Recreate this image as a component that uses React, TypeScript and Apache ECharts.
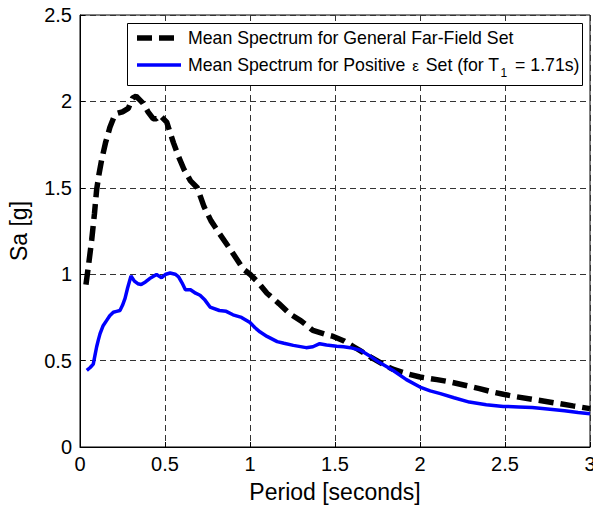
import React, { useEffect, useRef } from "react";
import * as echarts from "echarts";

const generalT = [0.035, 0.05, 0.069, 0.085, 0.098, 0.112, 0.127, 0.15, 0.176, 0.2, 0.216, 0.25, 0.284, 0.31, 0.33, 0.35, 0.37, 0.4, 0.43, 0.45, 0.47, 0.51, 0.55, 0.58, 0.61, 0.65, 0.69, 0.73, 0.77, 0.82, 0.88, 0.96, 1.0, 1.05, 1.1, 1.17, 1.235, 1.3, 1.37, 1.45, 1.49, 1.55, 1.61, 1.66, 1.71, 1.78, 1.84, 1.92, 2.0, 2.1, 2.18, 2.27, 2.35, 2.42, 2.49, 2.57, 2.66, 2.75, 2.82, 2.9, 3.0];
const generalSa = [0.94, 1.05, 1.2, 1.35, 1.49, 1.58, 1.66, 1.76, 1.85, 1.91, 1.93, 1.94, 1.96, 2.02, 2.03, 2.01, 1.99, 1.94, 1.9, 1.9, 1.92, 1.88, 1.76, 1.68, 1.61, 1.54, 1.5, 1.39, 1.31, 1.235, 1.15, 1.03, 1.0, 0.95, 0.89, 0.83, 0.77, 0.73, 0.675, 0.65, 0.64, 0.615, 0.58, 0.55, 0.52, 0.48, 0.45, 0.425, 0.405, 0.39, 0.376, 0.356, 0.338, 0.32, 0.305, 0.29, 0.276, 0.262, 0.251, 0.238, 0.222];

const positiveT = [0.04, 0.06, 0.078, 0.088, 0.098, 0.108, 0.118, 0.135, 0.157, 0.175, 0.196, 0.215, 0.235, 0.25, 0.265, 0.28, 0.3, 0.32, 0.34, 0.36, 0.385, 0.41, 0.45, 0.48, 0.505, 0.53, 0.56, 0.58, 0.6, 0.62, 0.65, 0.68, 0.706, 0.735, 0.765, 0.82, 0.86, 0.9, 0.95, 1.0, 1.03, 1.06, 1.1, 1.16, 1.2, 1.255, 1.33, 1.37, 1.41, 1.45, 1.51, 1.55, 1.59, 1.65, 1.7, 1.76, 1.84, 1.92, 2.0, 2.06, 2.12, 2.2, 2.29, 2.39, 2.49, 2.58, 2.66, 2.75, 2.85, 2.93, 3.0];
const positiveSa = [0.444, 0.46, 0.48, 0.53, 0.58, 0.62, 0.656, 0.7, 0.733, 0.76, 0.78, 0.785, 0.79, 0.82, 0.86, 0.92, 0.99, 0.96, 0.945, 0.94, 0.955, 0.975, 0.998, 0.98, 1.0, 1.007, 1.0, 0.985, 0.95, 0.91, 0.91, 0.89, 0.878, 0.85, 0.81, 0.79, 0.785, 0.765, 0.75, 0.72, 0.69, 0.665, 0.64, 0.61, 0.6, 0.588, 0.575, 0.58, 0.598, 0.59, 0.583, 0.58, 0.575, 0.56, 0.53, 0.49, 0.444, 0.39, 0.347, 0.325, 0.309, 0.285, 0.26, 0.245, 0.235, 0.232, 0.228, 0.22, 0.21, 0.2, 0.193];

const seriesNames = ["Mean Spectrum for General Far-Field Set", "Mean Spectrum for Positive ε Set (for T1 = 1.71s)"];
const legendRich = ["Mean Spectrum for General Far-Field Set", "Mean Spectrum for Positive {eps|ε} Set (for T{sub|1} = 1.71s)"];
const xLabel = "Period [seconds]";
const yLabel = "Sa [g]";

const FONT = "Liberation Sans, Arial, sans-serif";

export default function App() {
  const ref = useRef<HTMLDivElement>(null);
  useEffect(() => {
    document.documentElement.style.overflow = "hidden";
    document.body.style.margin = "0";
    document.body.style.overflow = "hidden";
    if (!ref.current) return;
    const chart = echarts.init(ref.current, null, { renderer: "svg" });
    const gridLine = { show: true, lineStyle: { color: "#333", width: 1, type: [6, 4] as any } };
    const blackLine = { color: "#000", width: 5.5, type: [15, 7] as any, cap: "butt" };
    const blueLine = { color: "#0000ff", width: 3.5 };
    const legendText = (y: number, text: string) => ({
      type: "text",
      z: 6,
      x: 188,
      y,
      style: {
        text,
        fontFamily: FONT,
        fontSize: 17.7,
        fill: "#000",
        verticalAlign: "middle",
        rich: {
          eps: { fontFamily: FONT, fontSize: 15, fill: "#000", padding: [0, 2, 0, 2] },
          sub: { fontFamily: FONT, fontSize: 12, fill: "#000", padding: [15, 3, 0, 1] },
        },
      },
    });
    chart.setOption({
      animation: false,
      backgroundColor: "#fff",
      textStyle: { fontFamily: FONT },
      grid: { left: 80, right: 3, top: 15, bottom: 61, outerBoundsMode: "none", containLabel: false, show: true, borderColor: "#000", borderWidth: 1, backgroundColor: "transparent" } as any,
      graphic: [
        {
          type: "rect",
          z: 5,
          shape: { x: 127.5, y: 23.5, width: 455, height: 62 },
          style: { fill: "#fff", stroke: "#000", lineWidth: 1 },
        },
        {
          type: "line",
          z: 6,
          shape: { x1: 137, y1: 38, x2: 181, y2: 38 },
          style: { stroke: "#000", lineWidth: 5.5, lineDash: [15, 7] },
        },
        legendText(38, legendRich[0]),
        {
          type: "line",
          z: 6,
          shape: { x1: 137, y1: 65, x2: 181, y2: 65 },
          style: { stroke: "#0000ff", lineWidth: 3.5 },
        },
        legendText(65, legendRich[1]),
      ],
      xAxis: {
        type: "value",
        min: 0,
        max: 3,
        interval: 0.5,
        name: xLabel,
        nameLocation: "middle",
        nameGap: 33,
        nameTextStyle: { fontFamily: FONT, fontSize: 23, color: "#000" },
        axisLine: { show: true, lineStyle: { color: "#000", width: 1 } },
        axisTick: { show: true, inside: true, length: 5, lineStyle: { color: "#000" } },
        axisLabel: { fontFamily: FONT, fontSize: 20, color: "#000", margin: 7 },
        splitLine: gridLine,
      },
      yAxis: {
        type: "value",
        min: 0,
        max: 2.5,
        interval: 0.5,
        name: yLabel,
        nameLocation: "middle",
        nameRotate: 90,
        nameGap: 50,
        nameTextStyle: { fontFamily: FONT, fontSize: 23, color: "#000" },
        axisLine: { show: true, lineStyle: { color: "#000", width: 1 } },
        axisTick: { show: true, inside: true, length: 5, lineStyle: { color: "#000" } },
        axisLabel: { fontFamily: FONT, fontSize: 20, color: "#000", margin: 8 },
        splitLine: gridLine,
      },
      series: [
        {
          name: seriesNames[0],
          type: "line",
          symbol: "none",
          z: 2,
          data: generalT.map((t, i) => [t, generalSa[i]]),
          lineStyle: blackLine,
          itemStyle: { color: "#000" },
        },
        {
          name: seriesNames[1],
          type: "line",
          symbol: "none",
          z: 2,
          data: positiveT.map((t, i) => [t, positiveSa[i]]),
          lineStyle: blueLine,
          itemStyle: { color: "#0000ff" },
        },
      ],
    });
    return () => chart.dispose();
  }, []);
  return <div ref={ref} style={{ width: 593, height: 508, position: "absolute", left: 0, top: 0 }} />;
}
